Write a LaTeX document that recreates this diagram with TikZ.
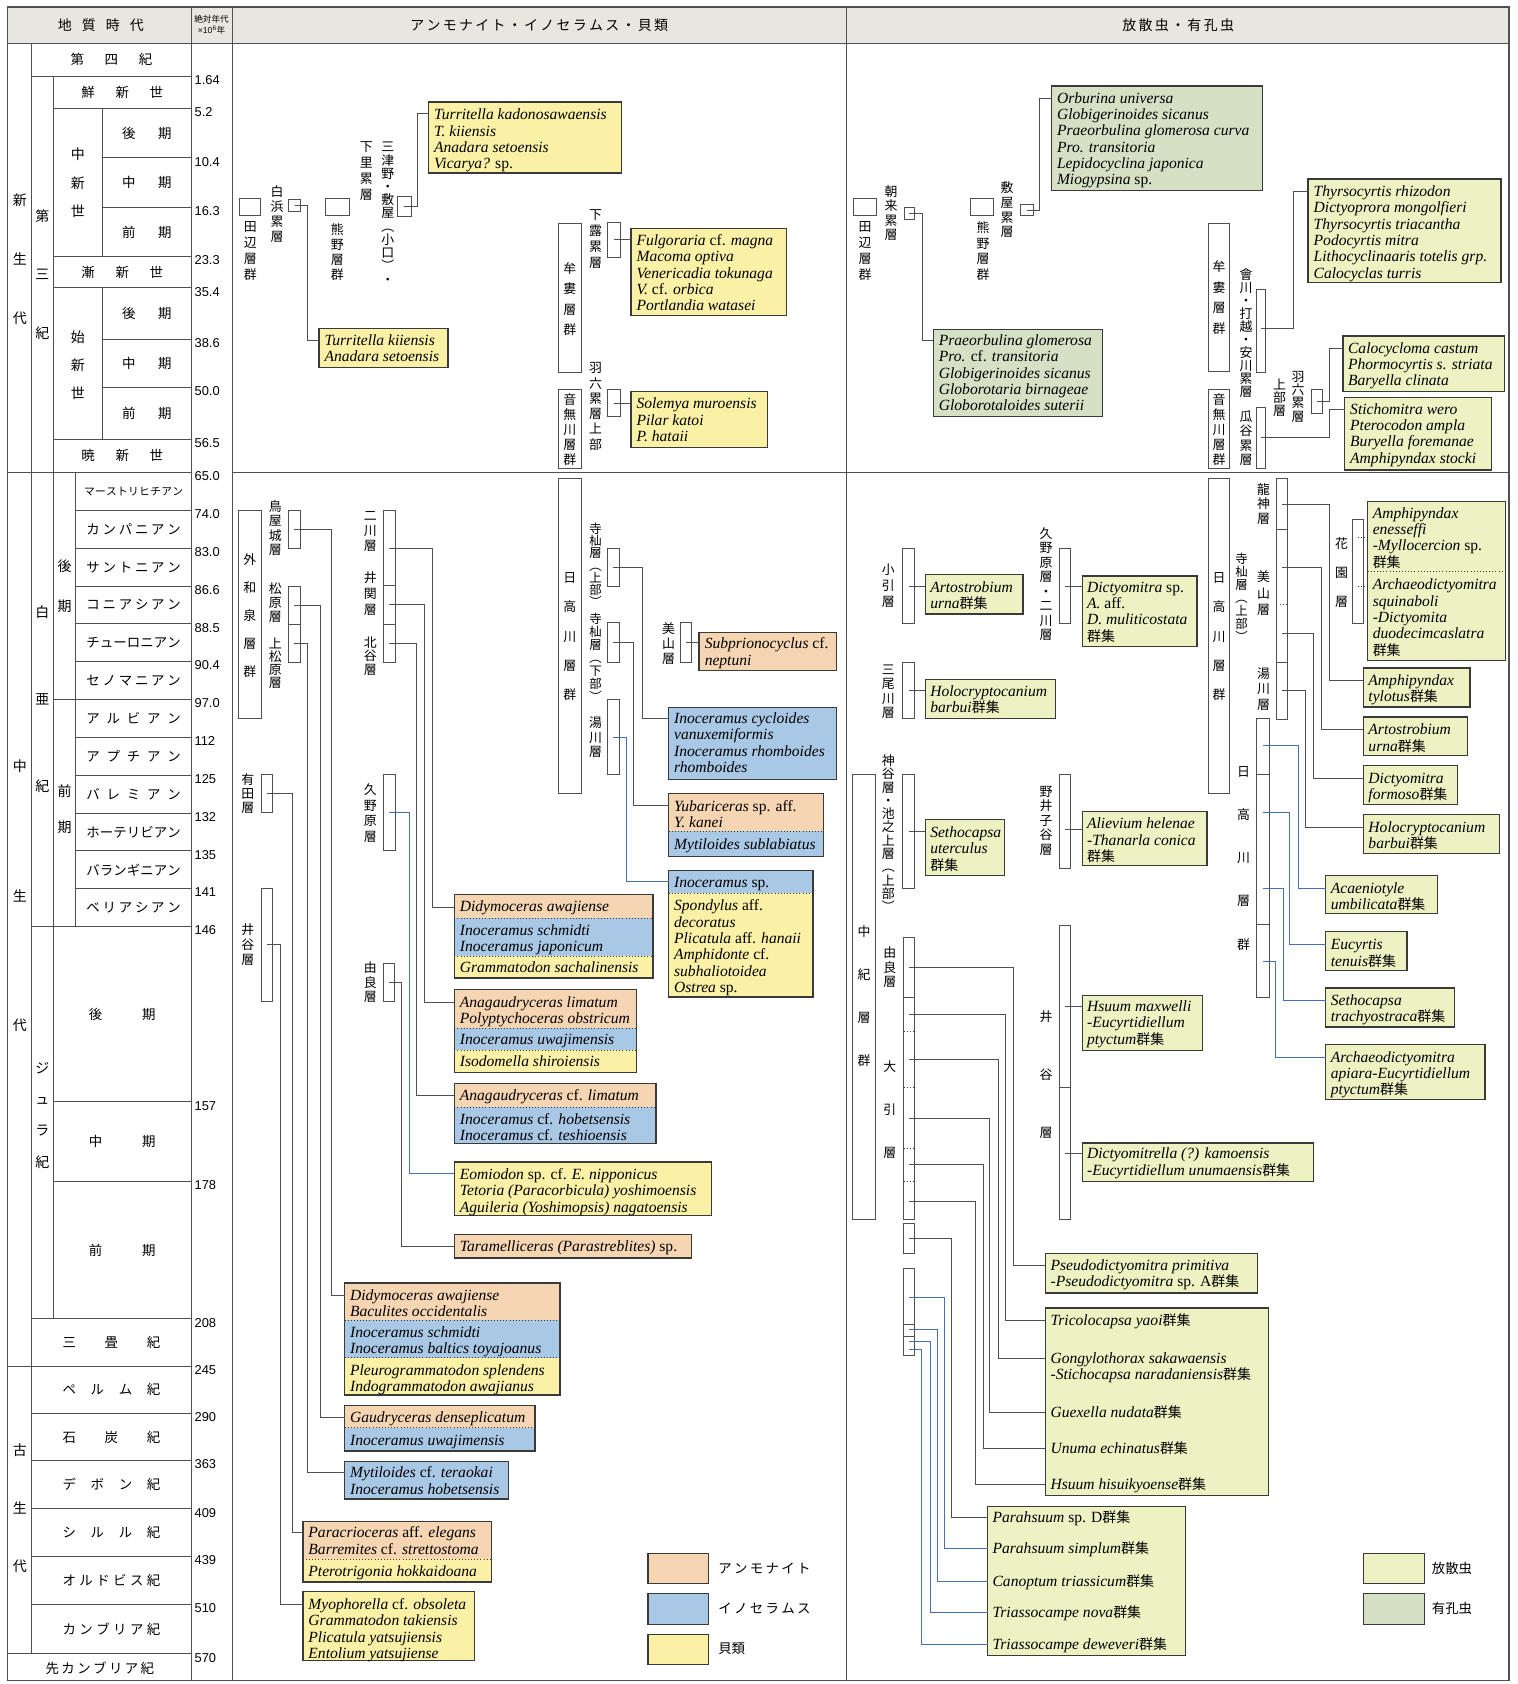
\documentclass[tikz,border=0pt]{standalone}
\usepackage{fontspec}
\setmainfont{Liberation Serif}
\newfontfamily\jp{Noto Sans CJK JP}
\newfontfamily\numf{Liberation Sans}
\definecolor{amm}{HTML}{F6D5B2}
\definecolor{ino}{HTML}{A9C8E6}
\definecolor{biv}{HTML}{FAF1A6}
\definecolor{rad}{HTML}{EEF1C2}
\definecolor{fora}{HTML}{D6E0C5}
\definecolor{hdr}{HTML}{E8E7DF}
\definecolor{ln}{HTML}{505050}
\definecolor{bx}{HTML}{3A3A3A}
\definecolor{cb}{HTML}{4B6FAE}
\lineskiplimit=-50pt
\newcommand\uf[1]{\textup{#1}}
\newcommand\gsj{{\upshape\jp\fontsize{13}{15.2}\selectfont 群集}}
\newcommand\sprd[2]{\makebox[#1pt][s]{#2}}
\tikzset{
  gridln/.style={draw=ln, line width=1pt},
  fmn/.style={draw=ln, line width=0.9pt, inner sep=0pt, outer sep=0pt, anchor=north west},
  fosn/.style={draw=bx, line width=1.2pt, inner sep=0pt, outer sep=0pt, anchor=north west},
  secn/.style={draw=none, inner sep=0pt, outer sep=0pt, anchor=north west},
  conn/.style={draw=ln, line width=0.8pt},
  connb/.style={draw=cb, line width=0.8pt},
  dotdiv/.style={draw=bx, line width=0.9pt, dotted},
  boxtxt/.style={inner sep=0pt, anchor=north west, align=left, font=\itshape\fontsize{14.5}{15.2}\selectfont},
  tcol/.style={inner sep=0pt, font=\jp\fontsize{12.5}{13}\selectfont},
  agenum/.style={inner sep=0pt, anchor=west, font=\numf\fontsize{12}{13}\selectfont},
  vlab/.style={inner sep=0pt, align=center},
}
% formation box (unfilled), fossil box (filled, framed), section fill, frame only
\newcommand\fmx[5]{\node[fmn, minimum width={(#4-#2)*1pt}, minimum height={(#5-#3)*1pt}] (#1) at (#2,#3) {};}
\newcommand\fbx[6]{\node[fosn, fill=#6, minimum width={(#4-#2)*1pt}, minimum height={(#5-#3)*1pt}] (#1) at (#2,#3) {};}
\newcommand\sbx[6]{\node[secn, fill=#6, minimum width={(#4-#2)*1pt}, minimum height={(#5-#3)*1pt}] (#1) at (#2,#3) {};}
\newcommand\obx[5]{\node[fosn, minimum width={(#4-#2)*1pt}, minimum height={(#5-#3)*1pt}] (#1) at (#2,#3) {};}
% species list, positioned by the centre of its first line
\newcommand\btx[4]{\node[boxtxt] (#1) at (#2,#3-7.5) {\rule{0pt}{12pt}#4};}
% vertical Japanese label
\newcommand\vl[6]{\node[vlab, font=\jp\fontsize{#4}{#5}\selectfont] (#1) at (#2,#3) {#6};}
\begin{document}
\begin{tikzpicture}[x=1pt,y=-1pt]
\useasboundingbox (0,0) rectangle (1413,1568);
\fill[white] (0,0) rectangle (1413,1568);
% ---------- frame and header ----------
\fill[hdr] (7,6.5) rectangle (1405,40.3);
\draw[gridln, line width=1.2pt] (7,6.5) rectangle (1405,1565);
\draw[gridln] (7,40.3) -- (1405,40.3);
\draw[gridln] (178,6.5) -- (178,1565);
\draw[gridln] (216.5,6.5) -- (216.5,1565);
\draw[gridln] (788,6.5) -- (788,1565);
\draw[gridln] (216.5,440) -- (1405,440);
\node[tcol, font=\jp\fontsize{13}{14}\selectfont] (hA) at (94,23.5) {\sprd{80}{地\hfill 質\hfill 時\hfill 代}};
\node[vlab, font=\jp\fontsize{8}{11}\selectfont] (hB) at (197,23) {絶対年代\\{\numf ×10\textsuperscript{6}}年};
\node[tcol, font=\jp\fontsize{13}{14}\selectfont] (hC) at (502,23.5) {\sprd{240}{ア\hfill ン\hfill モ\hfill ナ\hfill イ\hfill ト\hfill ・\hfill イ\hfill ノ\hfill セ\hfill ラ\hfill ム\hfill ス\hfill ・\hfill 貝\hfill 類}};
\node[tcol, font=\jp\fontsize{13}{14}\selectfont] (hD) at (1097,23.5) {\sprd{104}{放\hfill 散\hfill 虫\hfill ・\hfill 有\hfill 孔\hfill 虫}};
% ---------- geological time scale ----------
\draw[gridln] (29.5,40.3) -- (29.5,1540);
\draw[gridln] (49.6,71) -- (49.6,1228);
\draw[gridln] (70.7,440) -- (70.7,862.8);
\draw[gridln] (95.6,101) -- (95.6,239);
\draw[gridln] (95.6,268) -- (95.6,409);
\foreach \y/\xa in {71/29.5,101/49.6,147/95.6,193/95.6,239/49.6,268/49.6,316/95.6,361/95.6,409/49.6,440/7,
  475.2/70.7,510.5/70.7,545.7/70.7,580.9/70.7,616.2/70.7,651.4/49.6,686.6/70.7,721.8/70.7,757.1/70.7,792.3/70.7,827.5/70.7,862.8/29.5,
  1026/49.6,1100/49.6,1228/29.5,1272/7,1316/29.5,1360/29.5,1405/29.5,1449/29.5,1494/29.5,1540/7}
  \draw[gridln] (\xa,\y) -- (178,\y);
\foreach \t/\y [count=\i] in {1.64/71,5.2/101,10.4/147,16.3/193,23.3/239,35.4/268,38.6/316,50.0/361,56.5/409,65.0/440,
  74.0/475.2,83.0/510.5,86.6/545.7,88.5/580.9,90.4/616.2,97.0/651.4,112/686.6,125/721.8,132/757.1,135/792.3,141/827.5,146/862.8,
  157/1026,178/1100,208/1228,245/1272,290/1316,363/1360,409/1405,439/1449,510/1494,570/1540}
  \node[agenum] (age\i) at (181,\y+3.5) {\t};
% Cenozoic
\vl{e1}{18.5}{241}{13}{55}{新\\生\\代}
\vl{e2}{39.5}{255.5}{13}{54.5}{第\\三\\紀}
\node[tcol] (q1) at (103.75,55.5) {\sprd{76}{第\hfill 四\hfill 紀}};
\node[tcol] (q2) at (113.8,86) {\sprd{76}{鮮\hfill 新\hfill 世}};
\vl{q3}{72.6}{170.5}{13}{26.5}{中\\新\\世}
\node[tcol] (q4) at (136.8,124) {\sprd{46}{後\hfill 期}};
\node[tcol] (q5) at (136.8,170) {\sprd{46}{中\hfill 期}};
\node[tcol] (q6) at (136.8,216) {\sprd{46}{前\hfill 期}};
\node[tcol] (q7) at (113.8,253.5) {\sprd{76}{漸\hfill 新\hfill 世}};
\vl{q8}{72.6}{340}{13}{26}{始\\新\\世}
\node[tcol] (q9) at (136.8,292) {\sprd{46}{後\hfill 期}};
\node[tcol] (q10) at (136.8,338.5) {\sprd{46}{中\hfill 期}};
\node[tcol] (q11) at (136.8,385) {\sprd{46}{前\hfill 期}};
\node[tcol] (q12) at (113.8,424.5) {\sprd{76}{暁\hfill 新\hfill 世}};
% Mesozoic
\vl{e3}{18.5}{834}{13}{121}{中\\生\\代}
\vl{e4}{39.5}{651}{13}{81}{白\\亜\\紀}
\vl{e5}{60.2}{545.5}{13}{37}{後\\期}
\vl{e6}{60.2}{753.5}{13}{33}{前\\期}
\node[tcol, font=\jp\fontsize{10}{11}\selectfont] (k1) at (124.4,457.6) {\sprd{92}{マ\hfill ー\hfill ス\hfill ト\hfill リ\hfill ヒ\hfill チ\hfill ア\hfill ン}};
\node[tcol] (k2) at (124.4,492.9) {\sprd{88}{カ\hfill ン\hfill パ\hfill ニ\hfill ア\hfill ン}};
\node[tcol] (k3) at (124.4,528.1) {\sprd{88}{サ\hfill ン\hfill ト\hfill ニ\hfill ア\hfill ン}};
\node[tcol] (k4) at (124.4,563.3) {\sprd{88}{コ\hfill ニ\hfill ア\hfill シ\hfill ア\hfill ン}};
\node[tcol] (k5) at (124.4,598.6) {\sprd{88}{チ\hfill ュ\hfill ー\hfill ロ\hfill ニ\hfill ア\hfill ン}};
\node[tcol] (k6) at (124.4,633.8) {\sprd{88}{セ\hfill ノ\hfill マ\hfill ニ\hfill ア\hfill ン}};
\node[tcol] (k7) at (124.4,669) {\sprd{88}{ア\hfill ル\hfill ビ\hfill ア\hfill ン}};
\node[tcol] (k8) at (124.4,704.2) {\sprd{88}{ア\hfill プ\hfill チ\hfill ア\hfill ン}};
\node[tcol] (k9) at (124.4,739.5) {\sprd{88}{バ\hfill レ\hfill ミ\hfill ア\hfill ン}};
\node[tcol] (k10) at (124.4,774.7) {\sprd{88}{ホ\hfill ー\hfill テ\hfill リ\hfill ビ\hfill ア\hfill ン}};
\node[tcol] (k11) at (124.4,809.9) {\sprd{88}{バ\hfill ラ\hfill ン\hfill ギ\hfill ニ\hfill ア\hfill ン}};
\node[tcol] (k12) at (124.4,845.2) {\sprd{88}{ベ\hfill リ\hfill ア\hfill シ\hfill ア\hfill ン}};
\vl{e7}{39.5}{1038.5}{13}{29}{ジ\\ュ\\ラ\\紀}
\node[tcol] (j1) at (113.8,944.5) {\sprd{62}{後\hfill 期}};
\node[tcol] (j2) at (113.8,1063) {\sprd{62}{中\hfill 期}};
\node[tcol] (j3) at (113.8,1164) {\sprd{62}{前\hfill 期}};
\node[tcol] (j4) at (103.75,1250) {\sprd{91}{三\hfill 畳\hfill 紀}};
% Paleozoic and older
\vl{e8}{18.5}{1404}{13}{54}{古\\生\\代}
\node[tcol] (p1) at (103.75,1294) {\sprd{91}{ペ\hfill ル\hfill ム\hfill 紀}};
\node[tcol] (p2) at (103.75,1338) {\sprd{91}{石\hfill 炭\hfill 紀}};
\node[tcol] (p3) at (103.75,1382.5) {\sprd{91}{デ\hfill ボ\hfill ン\hfill 紀}};
\node[tcol] (p4) at (103.75,1427) {\sprd{91}{シ\hfill ル\hfill ル\hfill 紀}};
\node[tcol] (p5) at (103.75,1471.5) {\sprd{91}{オ\hfill ル\hfill ド\hfill ビ\hfill ス\hfill 紀}};
\node[tcol] (p6) at (103.75,1517) {\sprd{91}{カ\hfill ン\hfill ブ\hfill リ\hfill ア\hfill 紀}};
\node[tcol] (p7) at (93,1553) {\sprd{101}{先\hfill カ\hfill ン\hfill ブ\hfill リ\hfill ア\hfill 紀}};

% ================= ammonites, inoceramids, bivalves =================
% --- Paleogene / Neogene ---
\fmx{m_tanabe}{223}{185}{243}{201}
\vl{m_tanabeL}{233}{233.5}{12}{15}{田\\辺\\層\\群}
\vl{m_shiraL}{258}{199}{12}{14}{白\\浜\\累\\層}
\fmx{m_shira}{269}{186}{280}{197}
\fmx{m_kumano}{303.5}{185}{325}{201}
\vl{m_kumanoL}{314}{235}{12}{14}{熊\\野\\層\\群}
\vl{m_mitsuL}{361}{198.5}{12}{12.3}{三\\津\\野\\・\\敷\\屋\\︵\\小\\口\\︶\\・}
\vl{m_shimoL}{341}{159}{12}{15}{下\\里\\累\\層}
\fmx{m_mitsu}{370.5}{183}{382.7}{201.7}
\fmx{m_muro}{520}{208}{541}{346.6}
\vl{m_muroL}{530.5}{278.5}{12}{19}{牟\\婁\\層\\群}
\vl{m_tsuyuL}{554.5}{222.5}{12}{15}{下\\露\\累\\層}
\fmx{m_tsuyu}{565.5}{207}{577.7}{239.6}
\fmx{m_oto}{520}{363}{541}{436}
\vl{m_otoL}{530.5}{400}{12}{14}{音\\無\\川\\層\\群}
\vl{m_harokuL}{554.5}{378.5}{12}{14.2}{羽\\六\\累\\層\\上\\部}
\fmx{m_haroku}{565.5}{363}{577.7}{388}

\fbx{b_kado}{399}{95}{578.5}{161}{biv}
\btx{t_kado}{404}{107}{Turritella kadonosawaensis\\T. kiiensis\\Anadara setoensis\\Vicarya? \uf{sp.}}
\fbx{b_kii}{297}{305.6}{417}{342}{biv}
\btx{t_kii}{302}{317}{Turritella kiiensis\\Anadara setoensis}
\fbx{b_fulg}{587.6}{213}{732}{294}{biv}
\btx{t_fulg}{592.5}{224}{Fulgoraria \uf{cf.} magna\\Macoma optiva\\Venericadia tokunaga\\V. \uf{cf.} orbica\\Portlandia watasei}
\fbx{b_sol}{587.6}{364.6}{714.6}{416.4}{biv}
\btx{t_sol}{592.5}{376}{Solemya muroensis\\Pilar katoi\\P. hataii}

\draw[conn] (m_shira.center) -| (286,317) -- (b_kii.west |- 0,317);
\draw[conn] (m_mitsu.center) -| (389,106) -- (b_kado.west |- 0,106);
\draw[conn] (m_tsuyu.center) -- (b_fulg.west |- m_tsuyu.center);
\draw[conn] (m_haroku.center) -- (b_sol.west |- m_haroku.center);

% --- Cretaceous / Jurassic ---
\fmx{m_izumi}{222}{475.4}{243.5}{668.7}
\vl{m_izumiL}{232.7}{573}{12}{26}{外\\和\\泉\\層\\群}
\vl{m_toyaL}{256.4}{491.8}{12}{13.5}{鳥\\屋\\城\\層}
\fmx{m_toya}{268.6}{475.4}{279.6}{510.4}
\vl{m_matsuL}{256.4}{561}{12}{13}{松\\原\\層}
\fmx{m_matsu}{268.6}{546}{279.6}{581}
\vl{m_kamiL}{256.4}{617.5}{12}{12.4}{上\\松\\原\\層}
\fmx{m_kami}{268.6}{581}{279.6}{616.5}
\vl{m_aridaL}{230.7}{739}{12}{13.3}{有\\田\\層}
\fmx{m_arida}{243.5}{721.4}{253.8}{756.5}
\vl{m_idaniL}{230.7}{879.6}{12}{14}{井\\谷\\層}
\fmx{m_idani}{243.5}{826.9}{253.8}{932.4}
\vl{m_futaL}{344.7}{495}{12}{14}{二\\川\\層}
\fmx{m_futa}{357}{475.4}{368}{545.5}
\vl{m_isekiL}{344.7}{552.6}{12}{15}{井\\関\\層}
\fmx{m_iseki}{357}{545.5}{368}{581}
\vl{m_kitaL}{344.7}{611}{12}{13}{北\\谷\\層}
\fmx{m_kita}{357}{581}{368}{616.5}
\vl{m_kunoL}{344.7}{757}{12}{14.5}{久\\野\\原\\層}
\fmx{m_kuno}{357}{721.4}{368}{792}
\vl{m_yuraL}{344.7}{914.5}{12}{13.2}{由\\良\\層}
\fmx{m_yura}{357.5}{896.7}{367}{932.4}
\fmx{m_hidaka}{520}{445.3}{541}{739}
\vl{m_hidakaL}{530.5}{592.7}{12}{27.2}{日\\高\\川\\層\\群}
\vl{m_teraUL}{554.5}{526}{11.5}{11.4}{寺\\杣\\層\\︵\\上\\部\\︶}
\fmx{m_teraU}{565.5}{510.4}{576.6}{546}
\vl{m_teraLL}{554.5}{612}{11.5}{12.1}{寺\\杣\\層\\︵\\下\\部\\︶}
\fmx{m_teraL}{565.5}{580}{576.6}{616.5}
\vl{m_yukawaL}{554.5}{686.5}{12}{13.2}{湯\\川\\層}
\fmx{m_yukawa}{565.5}{651.6}{576.6}{721.4}
\vl{m_miyamaL}{622.6}{599}{12}{14}{美\\山\\層}
\fmx{m_miyama}{633.6}{580}{643.6}{616.5}

\fbx{b_subp}{650.9}{588.6}{779}{624.3}{amm}
\btx{t_subp}{656}{599.5}{Subprionocyclus \uf{cf.}\\neptuni}
\fbx{b_inocy}{622.6}{658.7}{779}{726}{ino}
\btx{t_inocy}{627.5}{669}{Inoceramus cycloides\\vanuxemiformis\\Inoceramus rhomboides\\rhomboides}
\sbx{s_yu1}{622.6}{739}{767}{774}{amm}
\sbx{s_yu2}{622.6}{774}{767}{797.5}{ino}
\draw[dotdiv] (s_yu1.south west) -- (s_yu1.south east);
\obx{b_yuba}{622.6}{739}{767}{797.5}
\btx{t_yu1}{627.5}{751}{Yubariceras \uf{sp. aff.}\\Y. kanei}
\btx{t_yu2}{627.5}{786}{Mytiloides sublabiatus}
\sbx{s_is1}{622.6}{810.7}{757}{831.5}{ino}
\sbx{s_is2}{622.6}{831.5}{757}{928.3}{biv}
\draw[dotdiv] (s_is1.south west) -- (s_is1.south east);
\obx{b_inosp}{622.6}{810.7}{757}{928.3}
\btx{t_is1}{627.5}{821.5}{Inoceramus \uf{sp.}}
\btx{t_is2}{627.5}{843.3}{Spondylus \uf{aff.}\\decoratus\\Plicatula \uf{aff.} hanaii\\Amphidonte \uf{cf.}\\subhaliotoidea\\Ostrea \uf{sp.}}

\sbx{s_d1a}{423}{833}{607.9}{854.8}{amm}
\sbx{s_d1b}{423}{854.8}{607.9}{890.5}{ino}
\sbx{s_d1c}{423}{890.5}{607.9}{910.7}{biv}
\draw[dotdiv] (s_d1a.south west) -- (s_d1a.south east);
\draw[dotdiv] (s_d1b.south west) -- (s_d1b.south east);
\obx{b_didy1}{423}{833}{607.9}{910.7}
\btx{t_d1a}{428}{844}{Didymoceras awajiense}
\btx{t_d1b}{428}{866}{Inoceramus schmidti\\Inoceramus japonicum}
\btx{t_d1c}{428}{901}{Grammatodon sachalinensis}

\sbx{s_a1a}{423}{921.5}{592.4}{957.2}{amm}
\sbx{s_a1b}{423}{957.2}{592.4}{978}{ino}
\sbx{s_a1c}{423}{978}{592.4}{998.5}{biv}
\draw[dotdiv] (s_a1a.south west) -- (s_a1a.south east);
\draw[dotdiv] (s_a1b.south west) -- (s_a1b.south east);
\obx{b_anag1}{423}{921.5}{592.4}{998.5}
\btx{t_a1a}{428}{933.3}{Anagaudryceras limatum\\Polyptychoceras obstricum}
\btx{t_a1b}{428}{968}{Inoceramus uwajimensis}
\btx{t_a1c}{428}{988.5}{Isodomella shiroiensis}

\sbx{s_a2a}{423}{1009}{610.8}{1030.8}{amm}
\sbx{s_a2b}{423}{1030.8}{610.8}{1065}{ino}
\draw[dotdiv] (s_a2a.south west) -- (s_a2a.south east);
\obx{b_anag2}{423}{1009}{610.8}{1065}
\btx{t_a2a}{428}{1020.2}{Anagaudryceras \uf{cf.} limatum}
\btx{t_a2b}{428}{1041.9}{Inoceramus \uf{cf.} hobetsensis\\Inoceramus \uf{cf.} teshioensis}

\fbx{b_eomi}{423}{1082}{662.3}{1132}{biv}
\btx{t_eomi}{428}{1093.7}{Eomiodon \uf{sp. cf.} E. nipponicus\\Tetoria (Paracorbicula) yoshimoensis\\Aguileria (Yoshimopsis) nagatoensis}
\fbx{b_taram}{423}{1149.6}{644}{1171.3}{amm}
\btx{t_taram}{428}{1161}{Taramelliceras (Parastreblites) \uf{sp.}}

\sbx{s_d2a}{320.8}{1194.5}{521.4}{1229.3}{amm}
\sbx{s_d2b}{320.8}{1229.3}{521.4}{1264.4}{ino}
\sbx{s_d2c}{320.8}{1264.4}{521.4}{1299}{biv}
\draw[dotdiv] (s_d2a.south west) -- (s_d2a.south east);
\draw[dotdiv] (s_d2b.south west) -- (s_d2b.south east);
\obx{b_didy2}{320.8}{1194.5}{521.4}{1299}
\btx{t_d2a}{325.8}{1206.3}{Didymoceras awajiense\\Baculites occidentalis}
\btx{t_d2b}{325.8}{1240.5}{Inoceramus schmidti\\Inoceramus baltics toyajoanus}
\btx{t_d2c}{325.8}{1275.8}{Pleurogrammatodon splendens\\Indogrammatodon awajianus}

\sbx{s_ga}{320.8}{1308.7}{498.2}{1329.5}{amm}
\sbx{s_gb}{320.8}{1329.5}{498.2}{1351}{ino}
\draw[dotdiv] (s_ga.south west) -- (s_ga.south east);
\obx{b_gaud}{320.8}{1308.7}{498.2}{1351}
\btx{t_ga}{325.8}{1320}{Gaudryceras denseplicatum}
\btx{t_gb}{325.8}{1341}{Inoceramus uwajimensis}

\fbx{b_myt}{320.8}{1360.5}{473.5}{1395.6}{ino}
\btx{t_myt}{325.8}{1371.4}{Mytiloides \uf{cf.} teraokai\\Inoceramus hobetsensis}

\sbx{s_pa}{282}{1416.4}{457.7}{1452}{amm}
\sbx{s_pb}{282}{1452}{457.7}{1473}{biv}
\draw[dotdiv] (s_pa.south west) -- (s_pa.south east);
\obx{b_parac}{282}{1416.4}{457.7}{1473}
\btx{t_pa}{287}{1427.3}{Paracrioceras \uf{aff.} elegans\\Barremites \uf{cf.} strettostoma}
\btx{t_pb}{287}{1463}{Pterotrigonia hokkaidoana}

\fbx{b_myoph}{282}{1482}{441.5}{1545.8}{biv}
\btx{t_myoph}{287}{1494}{Myophorella \uf{cf.} obsoleta\\Grammatodon takiensis\\Plicatula yatsujiensis\\Entolium yatsujiense}

\draw[conn] (m_toya.center) -| (309,1206) -- (b_didy2.west |- 0,1206);
\draw[conn] (m_matsu.center) -| (298,1320) -- (b_gaud.west |- 0,1320);
\draw[conn] (m_kami.center) -| (286,1371) -- (b_myt.west |- 0,1371);
\draw[conn] (m_arida.center) -| (272,1427) -- (b_parac.west |- 0,1427);
\draw[conn] (m_idani.center) -| (261,1494) -- (b_myoph.west |- 0,1494);
\draw[conn] (m_futa.center) -| (403,845) -- (b_didy1.west |- 0,845);
\draw[conn] (m_iseki.center) -| (395,933) -- (b_anag1.west |- 0,933);
\draw[conn] (m_kita.center) -| (388,1020) -- (b_anag2.west |- 0,1020);
\draw[connb] (m_kuno.center) -| (381.5,1093) -- (b_eomi.west |- 0,1093);
\draw[conn] (m_yura.center) -| (374,1161) -- (b_taram.west |- 0,1161);
\draw[conn] (m_teraU.center) -| (598,669) -- (b_inocy.west |- 0,669);
\draw[conn] (m_teraL.center) -| (589.5,750) -- (b_yuba.west |- 0,750);
\draw[connb] (m_yukawa.center) -| (583.2,821) -- (b_inosp.west |- 0,821);
\draw[conn] (m_miyama.center) -- (b_subp.west |- m_miyama.center);

% legend
\fbx{lg_amm}{603.4}{1446.5}{660}{1474.7}{amm}
\node[tcol, anchor=west] (lg_ammT) at (668.6,1460.8) {\sprd{86}{ア\hfill ン\hfill モ\hfill ナ\hfill イ\hfill ト}};
\fbx{lg_ino}{603.4}{1484}{660}{1512.6}{ino}
\node[tcol, anchor=west] (lg_inoT) at (668.6,1498) {\sprd{86}{イ\hfill ノ\hfill セ\hfill ラ\hfill ム\hfill ス}};
\fbx{lg_biv}{603.4}{1522}{660}{1550}{biv}
\node[tcol, anchor=west] (lg_bivT) at (668.6,1535.3) {貝類};

% ================= radiolarians, foraminifers =================
% --- Paleogene / Neogene ---
\fmx{r_tanabe}{794.8}{185}{816.3}{201}
\vl{r_tanabeL}{805.4}{233.5}{12}{15}{田\\辺\\層\\群}
\vl{r_asoL}{829.6}{198.6}{12}{13.5}{朝\\来\\累\\層}
\fmx{r_aso}{841.8}{193}{851.5}{204.8}
\fmx{r_kumano}{904}{185}{925.5}{201}
\vl{r_kumanoL}{915.4}{234}{12}{14.5}{熊\\野\\層\\群}
\vl{r_shikiL}{937.7}{195.4}{12}{13.6}{敷\\屋\\累\\層}
\fmx{r_shiki}{949.8}{190}{962}{201}
\fbx{b_orbu}{979.3}{80}{1175.6}{177.5}{fora}
\btx{t_orbu}{984}{91.5}{Orburina universa\\Globigerinoides sicanus\\Praeorbulina glomerosa curva\\Pro. transitoria\\Lepidocyclina japonica\\Miogypsina \uf{sp.}}
\fbx{b_praeo}{868.9}{306.6}{1026.7}{388}{fora}
\btx{t_praeo}{874}{317}{Praeorbulina glomerosa\\Pro. \uf{cf.} transitoria\\Globigerinoides sicanus\\Globorotaria birnageae\\Globorotaloides suterii}
\draw[conn] (r_aso.center) -| (858.8,317) -- (b_praeo.west |- 0,317);
\draw[conn] (r_shiki.center) -| (968,91.5) -- (b_orbu.west |- 0,91.5);

\fmx{r_muro}{1125}{208}{1145.2}{346}
\vl{r_muroL}{1135}{277}{12}{19.2}{牟\\婁\\層\\群}
\fmx{r_oto}{1125}{363}{1145.2}{436}
\vl{r_otoL}{1135}{400}{12}{14}{音\\無\\川\\層\\群}
\vl{r_aikawaL}{1160.2}{310.3}{12}{12.07}{會\\川\\・\\打\\越\\・\\安\\川\\累\\層}
\fmx{r_aikawa}{1169.5}{270}{1178.5}{347}
\vl{r_uriL}{1160.2}{408}{12}{13.4}{瓜\\谷\\累\\層}
\fmx{r_uri}{1169.5}{379}{1178.5}{436}
\vl{r_jobuL}{1191.5}{370.4}{12}{12}{上\\部\\層}
\vl{r_harokuL}{1208.6}{369.2}{12}{12.4}{羽\\六\\累\\層}
\fmx{r_haroku}{1221}{363}{1231}{384.7}
\fbx{b_thyr}{1218}{166.6}{1397.7}{263}{rad}
\btx{t_thyr}{1223}{178.4}{Thyrsocyrtis rhizodon\\Dictyoprora mongolfieri\\Thyrsocyrtis triacantha\\Podocyrtis mitra\\Lithocyclinaaris totelis grp.\\Calocyclas turris}
\fbx{b_calo}{1250.4}{312.8}{1401}{364.6}{rad}
\btx{t_calo}{1255}{324.3}{Calocycloma castum\\Phormocyrtis s. striata\\Baryella clinata}
\fbx{b_stich}{1252}{369.8}{1389}{437.5}{rad}
\btx{t_stich}{1257}{381}{Stichomitra wero\\Pterocodon ampla\\Buryella foremanae\\Amphipyndax stocki}
\draw[conn] (r_aikawa.center |- 0,306) -| (1204,178.4) -- (b_thyr.west |- 0,178.4);
\draw[conn] (r_haroku.center) -| (1238,324.3) -- (b_calo.west |- 0,324.3);
\draw[conn] (r_uri.center) -| (1238,381) -- (b_stich.west |- 0,381);

% --- Cretaceous ---
\vl{r_kobikiL}{827.2}{545.3}{12}{14.7}{小\\引\\層}
\fmx{r_kobiki}{840.6}{510.4}{851.5}{580.9}
\fbx{b_arto1}{861.6}{535.2}{952.6}{571.6}{rad}
\btx{t_arto1}{866}{546.7}{Artostrobium\\urna\gsj}
\draw[conn] (r_kobiki.center) -- (b_arto1.west |- r_kobiki.center);
\vl{r_miogaL}{827.2}{643.9}{12}{13.4}{三\\尾\\川\\層}
\fmx{r_mioga}{840.6}{616.9}{851.5}{668.7}
\fbx{b_holo1}{861.6}{632.4}{983}{668.7}{rad}
\btx{t_holo1}{866}{643.8}{Holocryptocanium\\barbui\gsj}
\draw[conn] (r_mioga.center) -- (b_holo1.west |- r_mioga.center);
\vl{r_kamiL}{827.2}{775.8}{12}{12.4}{神\\谷\\層\\・\\池\\之\\上\\層\\︵\\上\\部\\︶}
\fmx{r_kami}{840.6}{721.4}{851.5}{826.9}
\fbx{b_setho1}{861.6}{763.3}{935.6}{815.5}{rad}
\btx{t_setho1}{866}{775}{Sethocapsa\\uterculus\\ \gsj}
\draw[conn] (r_kami.center) -- (b_setho1.west |- r_kami.center);
\fmx{r_chuki}{794}{721.4}{815}{1135.6}
\vl{r_chukiL}{804.5}{927.5}{12}{40.3}{中\\紀\\層\\群}
\vl{r_kunoL}{974}{543.7}{12}{13.5}{久\\野\\原\\層\\・\\二\\川\\層}
\fmx{r_kuno}{986.2}{510.4}{997}{580.9}
\fbx{b_dicty1}{1007.7}{536.2}{1114.5}{602}{rad}
\btx{t_dicty1}{1012}{546.7}{Dictyomitra \uf{sp.}\\A. \uf{aff.}\\D. muliticostata\\ \gsj}
\draw[conn] (r_kuno.center) -- (b_dicty1.west |- r_kuno.center);
\vl{r_noikoL}{974}{764}{12}{13.5}{野\\井\\子\\谷\\層}
\fmx{r_noiko}{986.2}{721.4}{997}{808.3}
\fbx{b_alie}{1007.7}{755.6}{1123.8}{806}{rad}
\btx{t_alie}{1012}{767}{Alievium helenae\\-Thanarla conica\\ \gsj}
\draw[conn] (r_noiko.center |- 0,772.6) -- (b_alie.west |- 0,772.6);

\fmx{r_hidaka}{1125}{445.3}{1145.2}{739}
\vl{r_hidakaL}{1135}{592.7}{12}{27.2}{日\\高\\川\\層\\群}
\vl{r_teraL}{1156}{556.2}{11.5}{12.2}{寺\\杣\\層\\︵\\上\\部\\︶}
\vl{r_ryujinL}{1176.4}{469.3}{12}{13.2}{龍\\神\\層}
\vl{r_miyamaL}{1176.4}{552.3}{12}{15.5}{美\\山\\層}
\vl{r_yukawaL}{1176.4}{641.5}{12}{14.7}{湯\\川\\層}
\fmx{r_ryujin}{1188.5}{445.3}{1198.6}{493.4}
\fmx{r_miyama}{1188.5}{493.4}{1198.6}{616.9}
\fmx{r_yukawa}{1188.5}{616.9}{1198.6}{669.6}
\draw[dotdiv] (r_miyama.west |- 0,563.2) -- (r_miyama.east |- 0,563.2);
\vl{r_hanaL}{1249.2}{533}{12}{27}{花\\園\\層}
\fmx{r_hana}{1259.3}{483.4}{1269.5}{580.9}
\fbx{b_amphi}{1273.5}{467}{1402}{615}{rad}
\draw[dotdiv] (b_amphi.west |- 0,532.1) -- (b_amphi.east |- 0,532.1);
\btx{t_amphi1}{1278}{477.8}{Amphipyndax\\enesseffi\\-Myllocercion \uf{sp.}\\ \gsj}
\btx{t_amphi2}{1278}{544.6}{Archaeodictyomitra\\squinaboli\\-Dictyomita\\duodecimcaslatra\\ \gsj}
\draw[dotdiv] (r_hana.center |- 0,500) -- (b_amphi.west |- 0,500);
\draw[dotdiv] (r_hana.center |- 0,546) -- (b_amphi.west |- 0,546);
\fbx{b_amtyl}{1269.5}{622}{1368.6}{658.4}{rad}
\btx{t_amtyl}{1274}{633.6}{Amphipyndax\\tylotus\gsj}
\fbx{b_arto2}{1269.5}{667.7}{1366.5}{703.7}{rad}
\btx{t_arto2}{1274}{679.5}{Artostrobium\\urna\gsj}
\fbx{b_dicfor}{1269.5}{713}{1357.3}{749.4}{rad}
\btx{t_dicfor}{1274}{724.5}{Dictyomitra\\formoso\gsj}
\fbx{b_holo2}{1269.5}{758.7}{1396}{794.5}{rad}
\btx{t_holo2}{1274}{770.5}{Holocryptocanium\\barbui\gsj}
\draw[conn] (r_ryujin.center) -| (1238.3,633.6) -- (b_amtyl.west |- 0,633.6);
\draw[conn] (r_miyama.center |- 0,528) -| (1230.2,679.5) -- (b_arto2.west |- 0,679.5);
\draw[conn] (r_miyama.center |- 0,589.6) -| (1223,724.5) -- (b_dicfor.west |- 0,724.5);
\draw[conn] (r_yukawa.center) -| (1215.6,770.5) -- (b_holo2.west |- 0,770.5);

% --- Jurassic (lower Hidakagawa Group) ---
\vl{r_hidaka2L}{1158}{799}{12}{40.3}{日\\高\\川\\層\\群}
\fmx{r_hk1}{1170.3}{668.7}{1181.6}{721.4}
\fmx{r_hk2}{1170.3}{721.4}{1181.6}{861}
\fmx{r_hk3}{1170.3}{861}{1181.6}{928.3}
\fbx{b_acae}{1234.2}{815}{1338.2}{850.8}{rad}
\btx{t_acae}{1239}{826.9}{Acaeniotyle\\umbilicata\gsj}
\fbx{b_eucy}{1234.2}{867.2}{1310}{903.5}{rad}
\btx{t_eucy}{1239}{879.6}{Eucyrtis\\tenuis\gsj}
\fbx{b_sethtr}{1234.2}{920}{1354.4}{956.3}{rad}
\btx{t_sethtr}{1239}{931.5}{Sethocapsa\\trachyostraca\gsj}
\fbx{b_arcap}{1234.2}{972.7}{1382.7}{1024}{rad}
\btx{t_arcap}{1239}{984.2}{Archaeodictyomitra\\apiara-Eucyrtidiellum\\ptyctum\gsj}
\draw[connb] (r_hk1.center |- 0,694.4) -| (1208.6,826.9) -- (b_acae.west |- 0,826.9);
\draw[connb] (r_hk2.center |- 0,756.5) -| (1200.6,879.6) -- (b_eucy.west |- 0,879.6);
\draw[connb] (r_hk2.center |- 0,826.9) -| (1194.6,931.5) -- (b_sethtr.west |- 0,931.5);
\draw[connb] (r_hk3.center |- 0,895.1) -| (1187.7,984.2) -- (b_arcap.west |- 0,984.2);

% --- Jurassic (Chichibu belt) ---
\vl{r_yuraL}{828.4}{900.6}{12}{13.2}{由\\良\\層}
\fmx{r_yura}{841.4}{872.5}{851.5}{928.3}
\vl{r_obikiL}{828.4}{1033}{12}{40.3}{大\\引\\層}
\fmx{r_obiki}{841.4}{928.3}{851.5}{1135.6}
\foreach \y in {960.3,1013,1069,1100}
  \draw[dotdiv] (r_obiki.west |- 0,\y) -- (r_obiki.east |- 0,\y);
\fmx{r_sm1}{841.4}{1139.4}{851.5}{1166.7}
\fmx{r_sm2}{841.4}{1181.5}{851.5}{1262.2}
\draw[gridln] (r_sm2.west |- 0,1233) -- (r_sm2.east |- 0,1233);
\draw[gridln] (r_sm2.west |- 0,1244) -- (r_sm2.east |- 0,1244);
\vl{r_idaniL}{974}{1000.7}{12}{54.3}{井\\谷\\層}
\fmx{r_idani}{986.2}{862}{997}{1135.6}
\draw[gridln] (r_idani.west |- 0,1013) -- (r_idani.east |- 0,1013);
\fbx{b_hsuum}{1007.7}{927}{1119.7}{978}{rad}
\btx{t_hsuum}{1012}{937}{Hsuum maxwelli\\-Eucyrtidiellum\\ptyctum\gsj}
\fbx{b_dicmit}{1007.7}{1064.3}{1222.9}{1100}{rad}
\btx{t_dicmit}{1012}{1074.2}{Dictyomitrella (?) kamoensis\\-Eucyrtidiellum unumaensis\gsj}
\draw[conn] (r_idani.center |- 0,937) -- (b_hsuum.west |- 0,937);
\draw[conn] (r_idani.center |- 0,1074.2) -- (b_dicmit.west |- 0,1074.2);

\fbx{b_pseudo}{973.3}{1167.2}{1171.1}{1203.8}{rad}
\btx{t_pseudo}{978}{1178}{Pseudodictyomitra primitiva\\-Pseudodictyomitra \uf{sp. A}\gsj}
\fbx{b_big}{973.3}{1217.8}{1181.3}{1392.5}{rad}
\btx{t_big1}{978}{1229.3}{Tricolocapsa yaoi\gsj}
\btx{t_big2}{978}{1264.4}{Gongylothorax sakawaensis\\-Stichocapsa naradaniensis\gsj}
\btx{t_big3}{978}{1315}{Guexella nudata\gsj}
\btx{t_big4}{978}{1349}{Unuma echinatus\gsj}
\btx{t_big5}{978}{1382.3}{Hsuum hisuikyoense\gsj}
\fbx{b_para}{919.5}{1402.4}{1103.6}{1541.5}{rad}
\btx{t_para1}{924}{1413.3}{Parahsuum \uf{sp. D}\gsj}
\btx{t_para2}{924}{1442.2}{Parahsuum simplum\gsj}
\btx{t_para3}{924}{1472.3}{Canoptum triassicum\gsj}
\btx{t_para4}{924}{1501.1}{Triassocampe nova\gsj}
\btx{t_para5}{924}{1531.2}{Triassocampe deweveri\gsj}

\draw[conn] (r_yura.center) -| (943.7,1178) -- (b_pseudo.west |- 0,1178);
\draw[conn] (r_obiki.center |- 0,944.8) -| (936.5,1229.3) -- (b_big.west |- 0,1229.3);
\draw[conn] (r_obiki.center |- 0,986.7) -| (929.6,1264.4) -- (b_big.west |- 0,1264.4);
\draw[conn] (r_obiki.center |- 0,1041) -| (921.5,1315) -- (b_big.west |- 0,1315);
\draw[conn] (r_obiki.center |- 0,1084.4) -| (915.4,1349) -- (b_big.west |- 0,1349);
\draw[conn] (r_obiki.center |- 0,1118.6) -| (908.1,1382.3) -- (b_big.west |- 0,1382.3);
\draw[conn] (r_sm1.center) -| (886.3,1413.3) -- (b_para.west |- 0,1413.3);
\draw[connb] (r_sm2.center |- 0,1207.6) -| (879.8,1442.2) -- (b_para.west |- 0,1442.2);
\draw[connb] (r_sm2.center |- 0,1238) -| (872.9,1472.3) -- (b_para.west |- 0,1472.3);
\draw[connb] (r_sm2.center |- 0,1248.8) -| (866,1501.1) -- (b_para.west |- 0,1501.1);
\draw[connb] (r_sm2.center |- 0,1256.6) -| (858,1531.2) -- (b_para.west |- 0,1531.2);

% legend
\fbx{lg_rad}{1269.5}{1446.5}{1326.1}{1474.7}{rad}
\node[tcol, anchor=west] (lg_radT) at (1333,1460.8) {放散虫};
\fbx{lg_fora}{1269.5}{1484}{1326.1}{1512.6}{fora}
\node[tcol, anchor=west] (lg_foraT) at (1333,1498) {有孔虫};
\end{tikzpicture}
\end{document}
